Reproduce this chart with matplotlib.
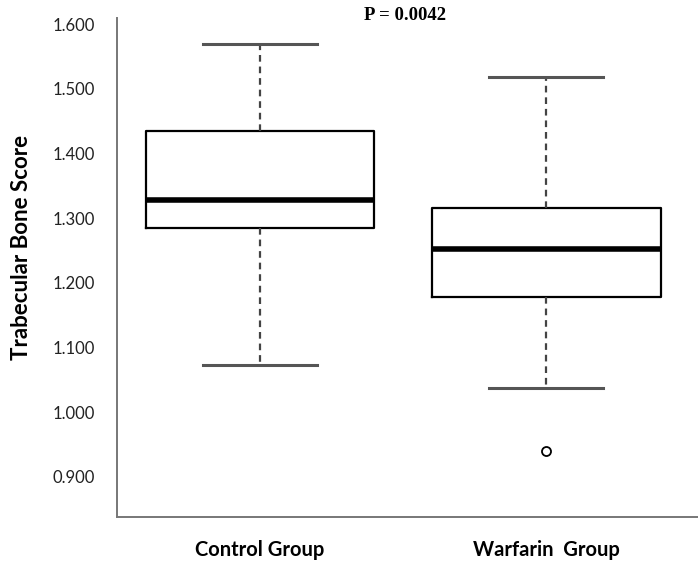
import matplotlib
matplotlib.use("Agg")
import matplotlib.pyplot as plt

categories = ["Control Group", "Warfarin  Group"]
whisker_high = [1.570, 1.519]
q3 = [1.435, 1.315]
median = [1.328, 1.253]
q1 = [1.285, 1.178]
whisker_low = [1.073, 1.037]
outliers = [[], [0.940]]
ytick_vals = [0.9, 1.0, 1.1, 1.2, 1.3, 1.4, 1.5, 1.6]
ytick_labels = ["0.900", "1.000", "1.100", "1.200", "1.300", "1.400", "1.500", "1.600"]
p_text = "P = 0.0042"

fig = plt.figure(figsize=(6.98, 5.67), dpi=100)
ax = fig.add_axes([0.1676, 0.0887, 0.8324, 0.8796])

stats = []
for i, c in enumerate(categories):
    stats.append(dict(label=c, whislo=whisker_low[i], q1=q1[i], med=median[i],
                      q3=q3[i], whishi=whisker_high[i], fliers=outliers[i]))

ax.bxp(stats, positions=[1, 2], widths=0.8, showfliers=True,
       boxprops=dict(color="black", linewidth=1.6),
       medianprops=dict(color="black", linewidth=4),
       whiskerprops=dict(color="#444444", linewidth=1.6, linestyle=(0, (3, 2.2))),
       capprops=dict(color="#555555", linewidth=2.2),
       flierprops=dict(marker="o", markersize=6.5, markerfacecolor="none",
                       markeredgecolor="black", markeredgewidth=1.3),
       capwidths=0.4)

ax.set_xlim(0.5, 2.531)
ax.set_ylim(0.8384, 1.6095)
ax.set_yticks(ytick_vals)
ax.set_yticklabels(ytick_labels, fontfamily="Lato", fontsize=12, color="#222222")
ax.set_xticks([1, 2])
ax.set_xticklabels(categories, fontfamily="Lato", fontweight="bold", fontsize=14.5)
ax.tick_params(axis="y", length=0, pad=16)
ax.tick_params(axis="x", length=0, pad=17)

for s in ["top", "right"]:
    ax.spines[s].set_visible(False)
for s in ["left", "bottom"]:
    ax.spines[s].set_color("#777777")
    ax.spines[s].set_linewidth(1.4)

ax.set_ylabel("Trabecular Bone Score", fontfamily="Lato", fontweight="bold", fontsize=16)
ax.yaxis.set_label_coords(-0.146, 0.54)

fig.text(0.58, 0.972, p_text, fontfamily="Liberation Serif", fontweight="bold",
         fontsize=13.5, ha="center", va="center")

fig.savefig("out.png", dpi=100)
